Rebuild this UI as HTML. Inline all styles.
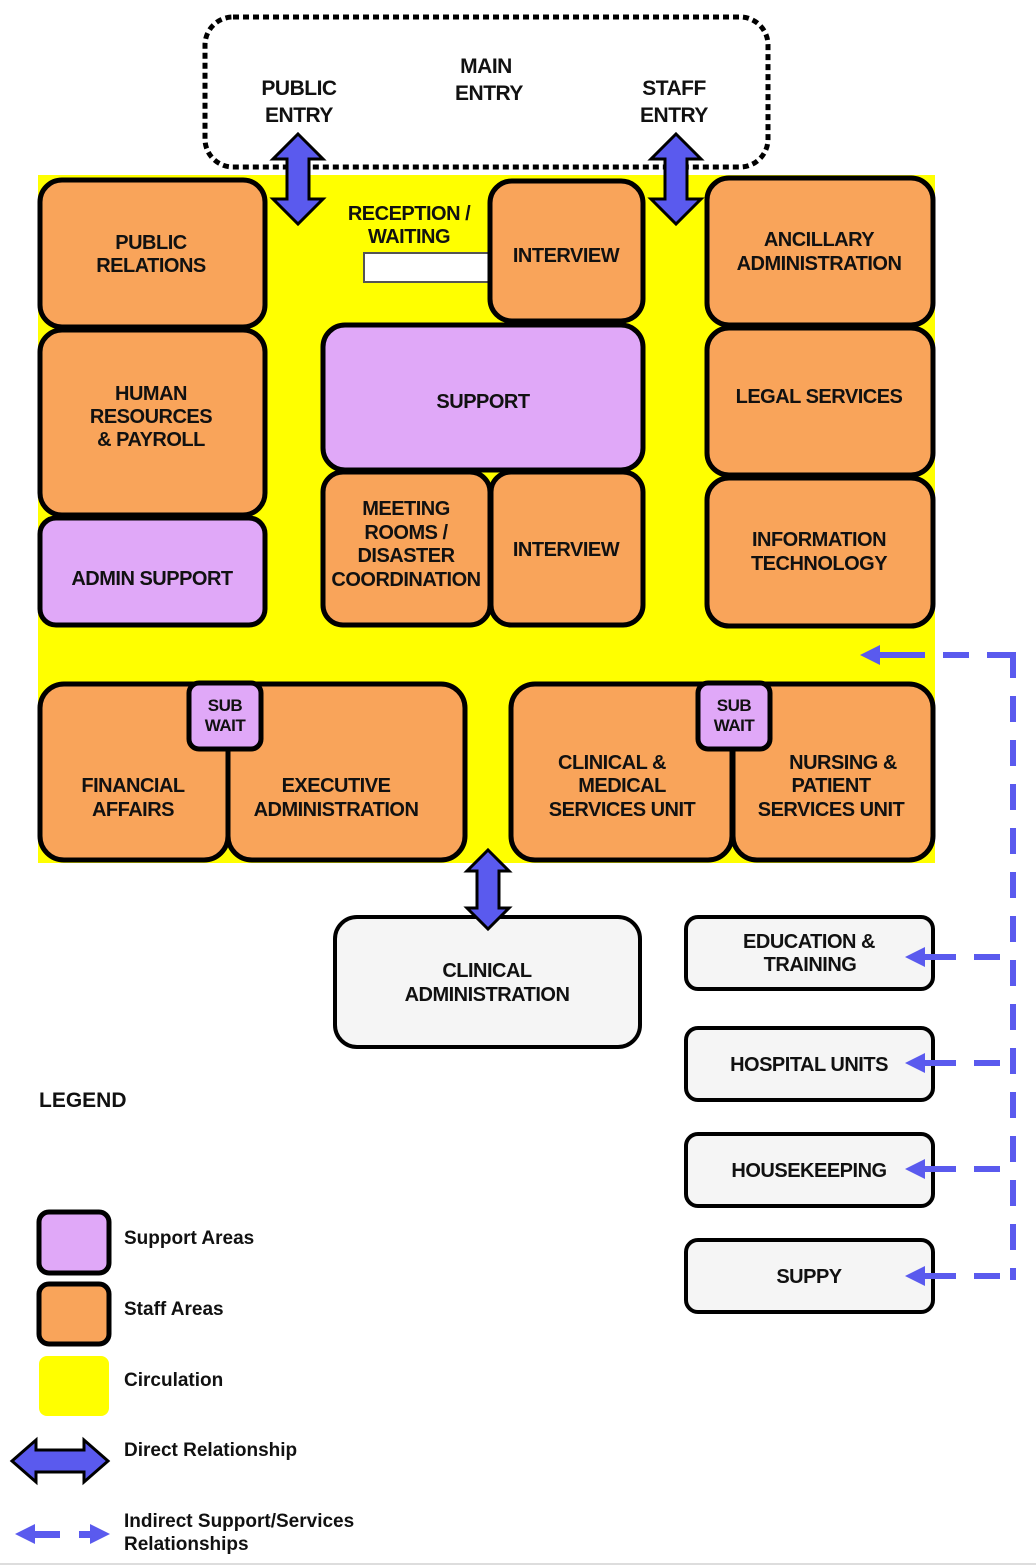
<!DOCTYPE html>
<html><head><meta charset="utf-8"><style>
html,body{margin:0;padding:0;background:#fff}
svg{display:block}
text{font-family:"Liberation Sans",Arial,sans-serif;font-weight:bold;fill:#111;text-anchor:middle;letter-spacing:-0.5px}
.o{fill:#f9a45a;stroke:#000;stroke-width:5}
.p{fill:#e0a8f8;stroke:#000;stroke-width:5}
.g{fill:#f5f5f5;stroke:#000;stroke-width:4}
.ar{fill:#5a5aee;stroke:#000;stroke-width:3;stroke-linejoin:miter}
.da{stroke:#5a5aee;stroke-width:6;stroke-dasharray:26 18;fill:none}
.ah{fill:#5a5aee}
.l{text-anchor:start;letter-spacing:0}
</style></head><body>
<svg width="1036" height="1566" viewBox="0 0 1036 1566" xmlns="http://www.w3.org/2000/svg">
<!-- main entry dotted -->
<rect x="205" y="17" width="563" height="150" rx="28" fill="none" stroke="#000" stroke-width="5" stroke-dasharray="6 4"/>
<text x="486" y="73" font-size="21">MAIN</text>
<text x="489" y="100" font-size="21">ENTRY</text>
<text x="299" y="95" font-size="21">PUBLIC</text>
<text x="299" y="122" font-size="21">ENTRY</text>
<text x="674" y="95" font-size="21">STAFF</text>
<text x="674" y="122" font-size="21">ENTRY</text>

<!-- circulation -->
<rect x="38" y="175" width="897" height="688" fill="#ffff00"/>

<!-- left column -->
<rect class="o" x="40" y="180" width="225" height="147" rx="22"/>
<text x="151" y="249" font-size="20">PUBLIC</text>
<text x="151" y="272" font-size="20">RELATIONS</text>
<rect class="o" x="40" y="330" width="225" height="185" rx="22"/>
<text x="151" y="400" font-size="20">HUMAN</text>
<text x="151" y="423" font-size="20">RESOURCES</text>
<text x="151" y="446" font-size="20">&amp; PAYROLL</text>
<rect class="p" x="40" y="518" width="225" height="107" rx="16"/>
<text x="152" y="585" font-size="20">ADMIN SUPPORT</text>

<!-- center -->
<text x="409" y="220" font-size="20">RECEPTION /</text>
<text x="409" y="243" font-size="20">WAITING</text>
<rect x="364" y="253" width="130" height="29" fill="#fff" stroke="#555" stroke-width="2"/>
<rect class="o" x="490" y="181" width="153" height="140" rx="22"/>
<text x="566" y="262" font-size="20">INTERVIEW</text>
<rect class="p" x="323" y="325" width="320" height="145" rx="22"/>
<text x="483" y="408" font-size="20">SUPPORT</text>
<rect class="o" x="323" y="472" width="167" height="153" rx="20"/>
<text x="406" y="515" font-size="20">MEETING</text>
<text x="406" y="539" font-size="20">ROOMS /</text>
<text x="406" y="562" font-size="20">DISASTER</text>
<text x="406" y="586" font-size="20">COORDINATION</text>
<rect class="o" x="491" y="472" width="152" height="153" rx="20"/>
<text x="566" y="556" font-size="20">INTERVIEW</text>

<!-- right column -->
<rect class="o" x="707" y="178" width="226" height="147" rx="22"/>
<text x="819" y="246" font-size="20">ANCILLARY</text>
<text x="819" y="270" font-size="20">ADMINISTRATION</text>
<rect class="o" x="707" y="328" width="226" height="147" rx="22"/>
<text x="819" y="403" font-size="20">LEGAL SERVICES</text>
<rect class="o" x="707" y="478" width="226" height="148" rx="22"/>
<text x="819" y="546" font-size="20">INFORMATION</text>
<text x="819" y="570" font-size="20">TECHNOLOGY</text>

<!-- bottom row -->
<rect class="o" x="40" y="684" width="188" height="176" rx="24"/>
<text x="133" y="792" font-size="20">FINANCIAL</text>
<text x="133" y="816" font-size="20">AFFAIRS</text>
<rect class="o" x="228" y="684" width="237" height="176" rx="24"/>
<text x="336" y="792" font-size="20">EXECUTIVE</text>
<text x="336" y="816" font-size="20">ADMINISTRATION</text>
<rect class="p" x="189" y="683" width="72" height="66" rx="10"/>
<text x="225" y="711" font-size="17">SUB</text>
<text x="225" y="731" font-size="17">WAIT</text>

<rect class="o" x="511" y="684" width="221" height="176" rx="24"/>
<text x="612" y="769" font-size="20">CLINICAL &amp;</text>
<text x="622" y="792" font-size="20">MEDICAL</text>
<text x="622" y="816" font-size="20">SERVICES UNIT</text>
<rect class="o" x="733" y="684" width="200" height="176" rx="24"/>
<text x="843" y="769" font-size="20">NURSING &amp;</text>
<text x="831" y="792" font-size="20">PATIENT</text>
<text x="831" y="816" font-size="20">SERVICES UNIT</text>
<rect class="p" x="698" y="683" width="72" height="66" rx="10"/>
<text x="734" y="711" font-size="17">SUB</text>
<text x="734" y="731" font-size="17">WAIT</text>

<!-- clinical admin -->
<rect class="g" x="335" y="917" width="305" height="130" rx="22"/>
<text x="487" y="977" font-size="20">CLINICAL</text>
<text x="487" y="1001" font-size="20">ADMINISTRATION</text>

<!-- right gray boxes -->
<rect class="g" x="686" y="917" width="247" height="72" rx="12"/>
<text x="809" y="948" font-size="20">EDUCATION &amp;</text>
<text x="810" y="971" font-size="20">TRAINING</text>
<rect class="g" x="686" y="1028" width="247" height="72" rx="12"/>
<text x="809" y="1071" font-size="20">HOSPITAL UNITS</text>
<rect class="g" x="686" y="1134" width="247" height="72" rx="12"/>
<text x="809" y="1177" font-size="20">HOUSEKEEPING</text>
<rect class="g" x="686" y="1240" width="247" height="72" rx="12"/>
<text x="809" y="1283" font-size="20">SUPPY</text>

<!-- direct arrows (vertical) -->
<path class="ar" d="M298 134 L323 159 L309 159 L309 199 L323 199 L298 224 L273 199 L287 199 L287 159 L273 159 Z"/>
<path class="ar" d="M676 134 L701 159 L687 159 L687 199 L701 199 L676 224 L651 199 L665 199 L665 159 L651 159 Z"/>
<path class="ar" d="M488 850 L509 871 L499 871 L499 908 L509 908 L488 929 L467 908 L477 908 L477 871 L467 871 Z"/>

<!-- dashed indirect -->
<line class="da" x1="1013" y1="652" x2="1013" y2="1280"/>
<line class="da" x1="1013" y1="655" x2="885" y2="655" stroke-dashoffset="0"/>
<polygon class="ah" points="860,655 880,645 880,665"/>
<rect class="ah" x="878" y="652" width="22" height="6"/>
<g>
<line class="da" x1="1000" y1="957" x2="925" y2="957" stroke-dasharray="26 18"/>
<polygon class="ah" points="905,957 925,947 925,967"/>
<rect class="ah" x="923" y="954" width="25" height="6"/>
<line class="da" x1="1000" y1="1063" x2="925" y2="1063"/>
<polygon class="ah" points="905,1063 925,1053 925,1073"/>
<rect class="ah" x="923" y="1060" width="25" height="6"/>
<line class="da" x1="1000" y1="1169" x2="925" y2="1169"/>
<polygon class="ah" points="905,1169 925,1159 925,1179"/>
<rect class="ah" x="923" y="1166" width="25" height="6"/>
<line class="da" x1="1000" y1="1276" x2="925" y2="1276"/>
<polygon class="ah" points="905,1276 925,1266 925,1286"/>
<rect class="ah" x="923" y="1273" width="25" height="6"/>
</g>

<!-- legend -->
<text class="l" x="39" y="1107" font-size="21">LEGEND</text>
<rect class="p" x="39" y="1212" width="70" height="61" rx="10" stroke-width="4"/>
<text class="l" x="124" y="1244" font-size="19">Support Areas</text>
<rect class="o" x="39" y="1284" width="70" height="60" rx="10" stroke-width="4"/>
<text class="l" x="124" y="1315" font-size="19">Staff Areas</text>
<rect x="39" y="1356" width="70" height="60" rx="8" fill="#ffff00"/>
<text class="l" x="124" y="1386" font-size="19">Circulation</text>
<path class="ar" d="M12 1461 L36 1440 L36 1450 L84 1450 L84 1440 L108 1461 L84 1482 L84 1472 L36 1472 L36 1482 Z"/>
<text class="l" x="124" y="1456" font-size="19">Direct Relationship</text>
<polygon class="ah" points="15,1534 35,1524 35,1544"/>
<rect class="ah" x="33" y="1531" width="27" height="7"/>
<polygon class="ah" points="110,1534 90,1524 90,1544"/>
<rect class="ah" x="79" y="1531" width="13" height="7"/>
<text class="l" x="124" y="1527" font-size="19">Indirect Support/Services</text>
<text class="l" x="124" y="1550" font-size="19">Relationships</text>
<line x1="0" y1="1564" x2="1036" y2="1564" stroke="#ddd" stroke-width="2"/>
</svg>
</body></html>
